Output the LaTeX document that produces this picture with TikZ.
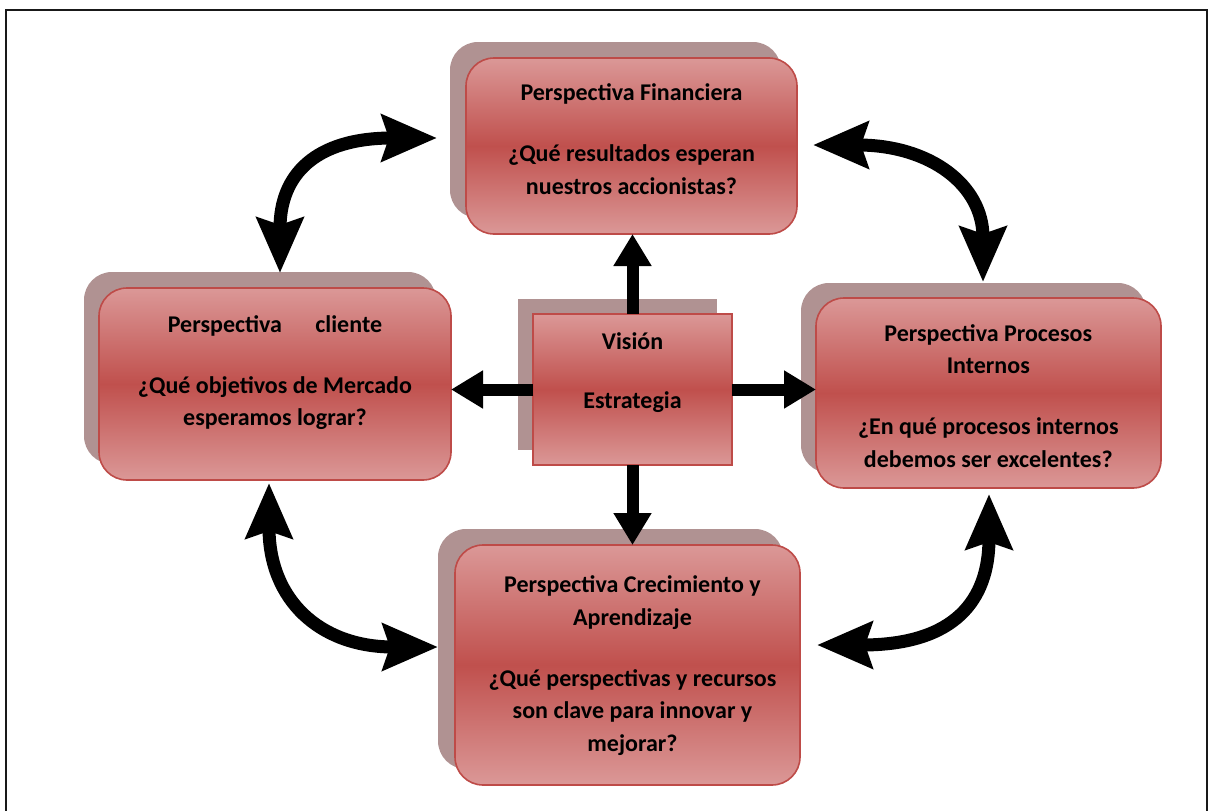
\documentclass[tikz,border=0pt]{standalone}
\usepackage{fontspec}
\setmainfont{Carlito}
\usetikzlibrary{arrows.meta}

\definecolor{framegray}{RGB}{25,25,25}
\definecolor{shadowmauve}{RGB}{176,146,146}
\definecolor{panellight}{RGB}{219,152,151}
\definecolor{paneldark}{RGB}{192,80,77}
\definecolor{paneledge}{RGB}{190,75,72}

\tikzset{
  backplate/.style={fill=shadowmauve, draw=none, inner sep=0pt, outer sep=0pt},
  panel/.style={draw=paneledge, line width=1.6pt, top color=panellight,
    bottom color=panellight, middle color=paneldark, inner sep=0pt, outer sep=0pt},
  roundpanel/.style={rounded corners=28pt},
  boxtext/.style={font=\fontsize{24}{32.5}\selectfont\bfseries, align=center,
    inner sep=0pt, text=black},
  pointer/.style={line width=12pt, -{Triangle[length=32pt,width=36pt]}},
  swing/.style={line width=13pt,
    {Stealth[length=55pt,width=46pt,inset=7pt]}-{Stealth[length=55pt,width=46pt,inset=7pt]}},
}

\begin{document}
\begin{tikzpicture}[x=1pt,y=-1pt]
\useasboundingbox (0,0) rectangle (1208,811);
\fill[white] (0,0) rectangle (1208,811);

% page frame, open at the bottom
\draw[framegray, line width=2.5pt] (6,815) -- (6,10) -- (1207,10) -- (1207,815);

% backing plates
\node[backplate, roundpanel, minimum width=331pt, minimum height=176pt] (fin-back) at (615.5,130) {};
\node[backplate, roundpanel, minimum width=352pt, minimum height=192pt] (cli-back) at (260,368) {};
\node[backplate, roundpanel, minimum width=345pt, minimum height=190pt] (pro-back) at (973.5,378) {};
\node[backplate, roundpanel, minimum width=345pt, minimum height=240pt] (cre-back) at (610.5,649) {};
\node[backplate, minimum width=199pt, minimum height=151pt] (vis-back) at (617.5,374.5) {};

% panels
\node[panel, roundpanel, minimum width=331pt, minimum height=176pt] (fin) at (631.5,146) {};
\node[panel, roundpanel, minimum width=352pt, minimum height=192pt] (cli) at (275,384) {};
\node[panel, roundpanel, minimum width=345pt, minimum height=190pt] (pro) at (988.5,393) {};
\node[panel, roundpanel, minimum width=345pt, minimum height=240pt] (cre) at (627.5,665) {};
\node[panel, minimum width=199pt, minimum height=151pt] (vis) at (632.5,389.5) {};

% panel texts
\node[boxtext] (fin-text) at (631.5,139) {Perspectiva Financiera\\[28.5pt]¿Qué resultados esperan\\nuestros accionistas?};
\node[boxtext] (cli-text) at (275,372.5) {Perspectiva\hspace{28pt} cliente\\[28.5pt]¿Qué objetivos de Mercado\\esperamos lograr?};
\node[boxtext] (pro-text) at (988.3,396) {Perspectiva Procesos\\Internos\\[28.5pt]¿En qué procesos internos\\debemos ser excelentes?};
\node[boxtext] (cre-text) at (632.5,665.8) {Perspectiva Crecimiento y\\Aprendizaje\\[28.5pt]¿Qué perspectivas y recursos\\son clave para innovar y\\mejorar?};
\node[boxtext] (vis-text) at (632.5,372.2) {Visión\\[26.5pt]Estrategia};

% straight arrows out of the centre
\draw[pointer] (vis.north) -- (vis.north |- fin.south);
\draw[pointer] (vis.south) -- (vis.south |- cre.north);
\draw[pointer] (vis.west) -- (vis.west -| cli.east);
\draw[pointer] (vis.east) -- (vis.east -| pro.west);

% curved two-way arrows between neighbouring perspectives
\coordinate (tl-a) at (280,273);
\coordinate (tl-b) at (437,138);
\coordinate (tr-a) at (813,145);
\coordinate (tr-b) at (983,282);
\coordinate (bl-a) at (269,483);
\coordinate (bl-b) at (438,647);
\coordinate (br-a) at (989,494);
\coordinate (br-b) at (817,645);

\draw[swing] (tl-a) .. controls (280,175) and (315,138) .. (tl-b);
\draw[swing] (tr-a) .. controls (930,145) and (983,185) .. (tr-b);
\draw[swing] (bl-a) .. controls (269,600) and (320,647) .. (bl-b);
\draw[swing] (br-a) .. controls (989,600) and (955,645) .. (br-b);
\end{tikzpicture}
\end{document}
